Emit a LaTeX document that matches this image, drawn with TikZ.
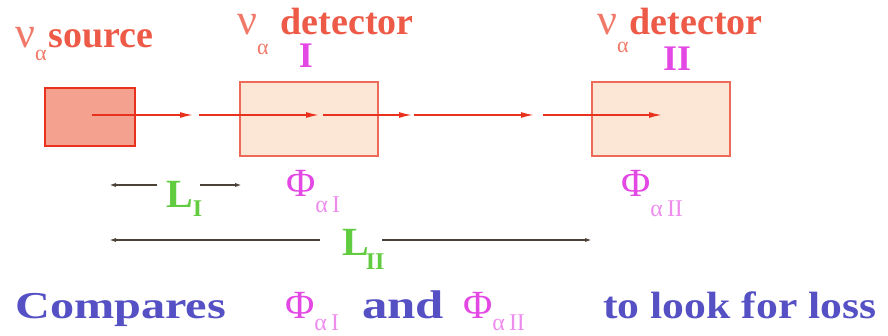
\documentclass[tikz,border=0pt]{standalone}
\usepackage{fontspec}
\setmainfont{Liberation Serif}
\newfontfamily\wideserif[FakeStretch=1.15]{Liberation Serif}
\newfontfamily\widerserif[FakeStretch=1.27]{Liberation Serif}
\usetikzlibrary{arrows.meta,calc}
\definecolor{labred}{HTML}{EE5A48}
\definecolor{nured}{HTML}{F07868}
\definecolor{beamred}{HTML}{E8321E}
\definecolor{srcfill}{HTML}{F4A190}
\definecolor{detfill}{HTML}{FCE7D6}
\definecolor{detline}{HTML}{EE6A58}
\definecolor{phimag}{HTML}{E448E4}
\definecolor{submag}{HTML}{EE8CEE}
\definecolor{lgreen}{HTML}{62CC40}
\definecolor{cmpblue}{HTML}{5550C4}
\definecolor{dimgray}{HTML}{4C4238}
\tikzset{
  srcbox/.style  = {draw=beamred, fill=srcfill, line width=1.4pt,
                    minimum width=90pt, minimum height=58pt},
  detbox/.style  = {draw=detline, fill=detfill, line width=1.4pt,
                    minimum width=138pt, minimum height=74pt},
  beam/.style    = {beamred, line width=1.6pt, -{Latex[length=13pt,width=6pt]}},
  dim/.style     = {dimgray, line width=1.6pt, -{Latex[length=8pt,width=4pt]}},
  redlbl/.style  = {text=labred, inner sep=0pt, anchor=base west,
                    font=\bfseries\fontsize{38}{40}\selectfont},
  romlbl/.style  = {text=phimag, inner sep=0pt, anchor=base,
                    font=\bfseries\fontsize{36}{38}\selectfont},
  philbl/.style  = {text=phimag, inner sep=0pt, anchor=base west,
                    font=\fontsize{40}{42}\selectfont},
  lenlbl/.style  = {text=lgreen, inner sep=0pt, anchor=base west,
                    font=\bfseries\fontsize{40}{42}\selectfont},
  cmptxt/.style  = {text=cmpblue, inner sep=0pt, anchor=base west,
                    font=\wideserif\bfseries\fontsize{38}{40}\selectfont},
}
\newcommand{\nualpha}[1]{{\mdseries\color{nured}\fontsize{44}{44}\selectfont ν\lower#1\hbox{\fontsize{22}{22}\selectfont α}}}
\newcommand{\phisub}[2]{Φ\lower#1\hbox{\fontsize{24}{24}\selectfont\color{submag}α\,#2}}

\begin{document}
\begin{tikzpicture}[x=1pt,y=-1pt]
  \useasboundingbox (0,0) rectangle (888,335);
  % source and detectors
  \node[srcbox] (src) at (90,117) {};
  \node[detbox] (detI) at (309,119) {};
  \node[detbox] (detII) at (661,119) {};
  % labels on top
  \node[redlbl] (srclbl) at (15,47) {\nualpha{13pt}\kern2pt source};
  \node[redlbl] (detIlbl) at (237,34) {\nualpha{20pt}\kern12pt detector};
  \node[redlbl] (detIIlbl) at (597,34) {\nualpha{18pt}\kern1pt detector};
  \node[romlbl] (numI) at (306,67) {I};
  \node[romlbl] (numII) at (677,70) {II};
  % the beam
  \coordinate (b0) at (92,115);
  \coordinate (b1) at (193,115);
  \coordinate (b2) at (319,115);
  \coordinate (b3) at (412,115);
  \coordinate (b4) at (534,115);
  \coordinate (b5) at (662,115);
  \draw[beam] (b0) -- (b1);
  \draw[beam] ($(b1)+(6,0)$) -- (b2);
  \draw[beam] ($(b2)+(4,0)$) -- (b3);
  \draw[beam] ($(b3)+(2,0)$) -- (b4);
  \draw[beam] ($(b4)+(9,0)$) -- (b5);
  % fluxes
  \node[philbl] (phiI) at (286,196) {\phisub{16pt}{I}};
  \node[philbl] (phiII) at (621,196) {\phisub{20pt}{II}};
  % baselines
  \node[lenlbl] (LI) at (166,207) {L\lower9pt\hbox{\fontsize{24}{24}\selectfont I}};
  \node[lenlbl] (LII) at (342,255) {L\kern-3pt\lower14pt\hbox{\fontsize{24}{24}\selectfont II}};
  \coordinate (lIs) at (157,185);
  \coordinate (lIe) at (200,185);
  \coordinate (lIa) at (108,185);
  \coordinate (lIb) at (243,185);
  \coordinate (lIIs) at (320,240);
  \coordinate (lIIe) at (382,240);
  \coordinate (lIIa) at (108,240);
  \coordinate (lIIb) at (593,240);
  \draw[dim] (lIs) -- (lIa);
  \draw[dim] (lIe) -- (lIb);
  \draw[dim] (lIIs) -- (lIIa);
  \draw[dim] (lIIe) -- (lIIb);
  % bottom line
  \node[cmptxt, font=\widerserif\bfseries\fontsize{38}{40}\selectfont] (cmp) at (15,318) {Compares};
  \node[philbl] (phiIb) at (285,318) {\phisub{12pt}{I}};
  \node[cmptxt, font=\widerserif\bfseries\fontsize{40}{40}\selectfont] (andw) at (362,318) {and};
  \node[philbl] (phiIIb) at (463,318) {\phisub{12pt}{II}};
  \node[cmptxt] (loss) at (603,318) {to look for loss};
\end{tikzpicture}
\end{document}
